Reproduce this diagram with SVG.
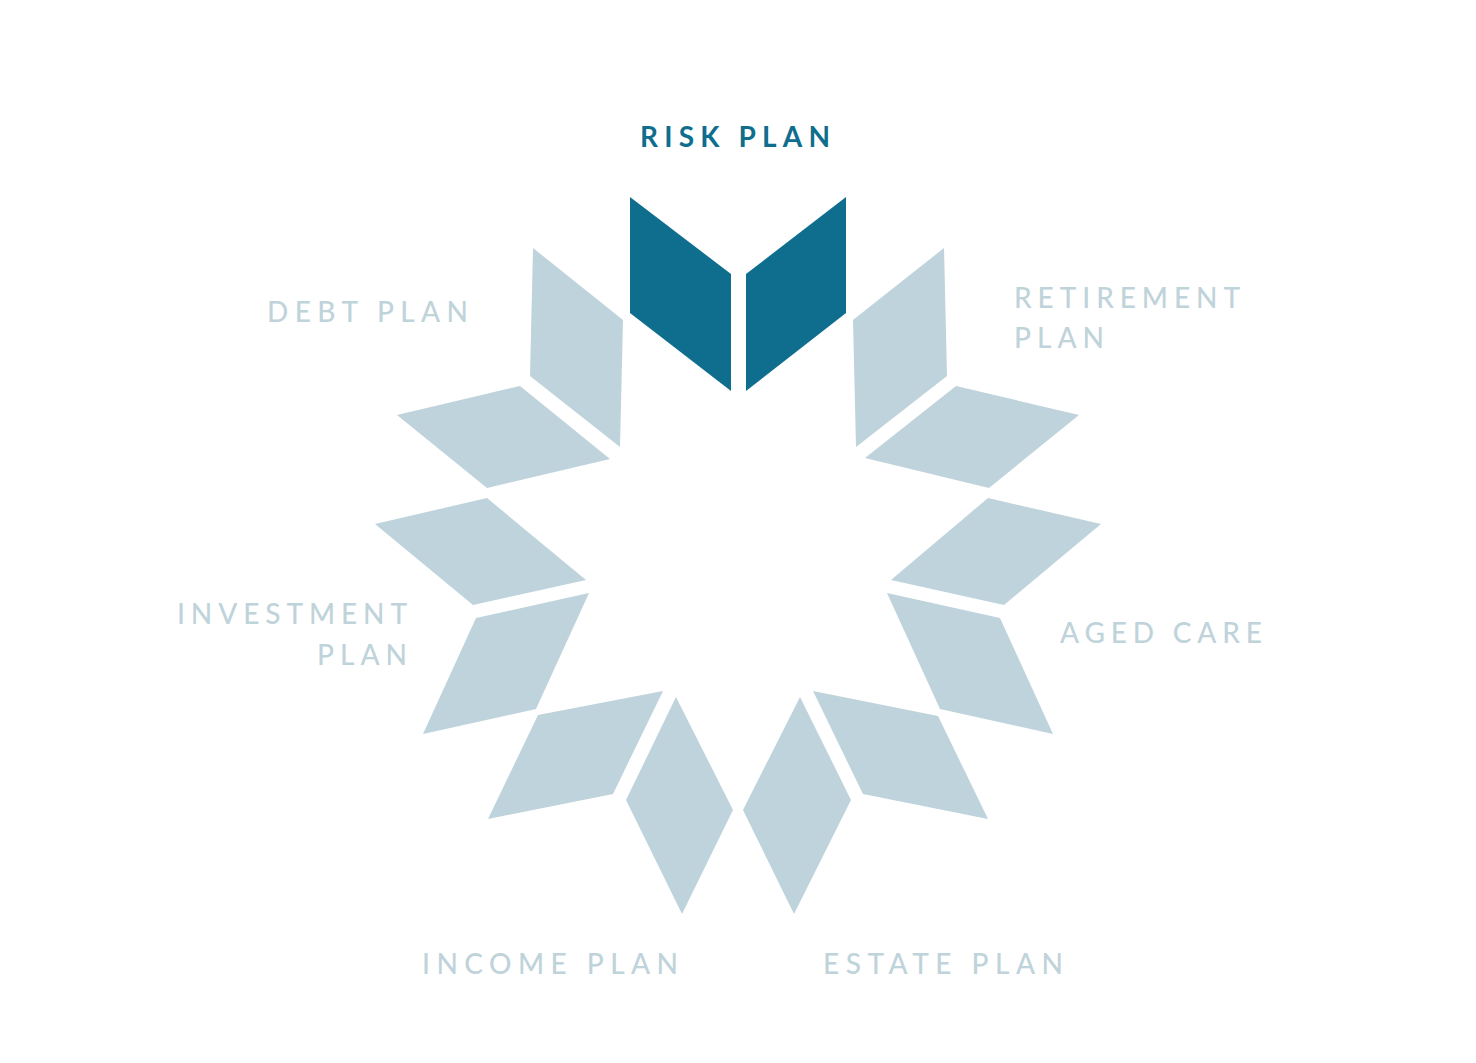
<svg xmlns="http://www.w3.org/2000/svg" width="1476" height="1063" viewBox="0 0 1476 1063">
<style>
.bg{fill:#ffffff}
.pet{fill:#bed3db}
.act{fill:#0f6e8e}
.lbl{font-family:Lato,"Open Sans","Liberation Sans",sans-serif;font-size:28px;fill:#bfd3da;font-weight:500}
.lbl-act{font-family:Lato,"Open Sans","Liberation Sans",sans-serif;font-size:28px;fill:#0f6e8e;font-weight:700}
</style>
<rect class="bg" x="0" y="0" width="1476" height="1063"/>
<g id="risk-plan">
<polygon class="act" points="630,197 731,274 731,391 630,313"/>
<polygon class="act" points="746,274 846,197 846,313 746,391"/>
<text class="lbl-act" x="640" y="147" textLength="190" lengthAdjust="spacing">RISK PLAN</text>
</g>
<g id="retirement-plan">
<polygon class="pet" points="944,248 853,320 856,447 947,376"/>
<polygon class="pet" points="956,386 1079,415 989,488 865,458"/>
<text class="lbl" x="1014" y="308" textLength="226" lengthAdjust="spacing">RETIREMENT</text>
<text class="lbl" x="1014" y="348" textLength="90" lengthAdjust="spacing">PLAN</text>
</g>
<g id="aged-care">
<polygon class="pet" points="988,498 1101,524 1004,605 891,580"/>
<polygon class="pet" points="887,593 1000,618 1053,734 940,709"/>
<text class="lbl" x="1060" y="643" textLength="202" lengthAdjust="spacing">AGED CARE</text>
</g>
<g id="estate-plan">
<polygon class="pet" points="813,691 938,716 988,819 863,794"/>
<polygon class="pet" points="800,697 851,800 794,914 743,810"/>
<text class="lbl" x="823" y="974" textLength="240" lengthAdjust="spacing">ESTATE PLAN</text>
</g>
<g id="income-plan">
<polygon class="pet" points="676,697 733,810 682,914 626,800"/>
<polygon class="pet" points="663,691 538,715 488,819 613,794"/>
<text class="lbl" x="422" y="974" textLength="256" lengthAdjust="spacing">INCOME PLAN</text>
</g>
<g id="investment-plan">
<polygon class="pet" points="589,593 476,618 423,734 536,709"/>
<polygon class="pet" points="487,498 586,580 473,605 375,524"/>
<text class="lbl" x="177" y="624" textLength="230" lengthAdjust="spacing">INVESTMENT</text>
<text class="lbl" x="317" y="665" textLength="90" lengthAdjust="spacing">PLAN</text>
</g>
<g id="debt-plan">
<polygon class="pet" points="520,386 610,459 487,488 397,415"/>
<polygon class="pet" points="533,248 623,320 620,447 530,376"/>
<text class="lbl" x="267" y="322" textLength="201" lengthAdjust="spacing">DEBT PLAN</text>
</g>
<g id="connectors"/>
</svg>
